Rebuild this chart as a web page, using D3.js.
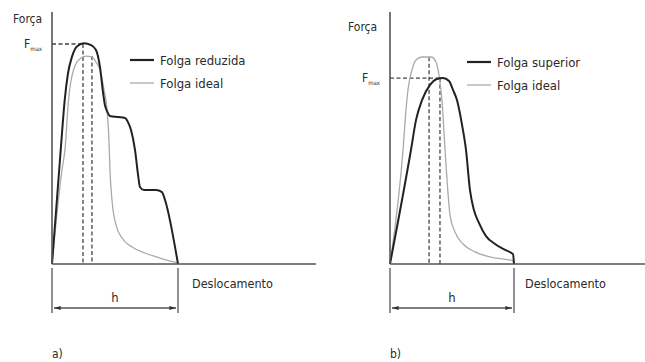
<!DOCTYPE html>
<html>
<head>
<meta charset="utf-8">
<script src="https://cdn.jsdelivr.net/npm/d3@7"></script>
<style>
  body { margin: 0; background: #fff; }
  svg text { font-family: "Liberation Sans Narrow", "DejaVu Sans Condensed", "Open Sans", sans-serif; fill: #2a2a2a; }
</style>
</head>
<body>
<svg id="chart" width="645" height="362"></svg>
<script>
// displacement in units where h = 10, force in units where Fmax (panel a) = 100
const reducedA = [[0,0],[0.6,45],[0.8,60],[1.0,74],[1.25,86],[1.6,94.5],[2.0,99],[2.54,100.3],[3.1,99.5],[3.49,97.3],[3.81,89.5],[4.05,78],[4.21,72],[4.37,69.5],[4.6,67.3],[5.24,66.8],[5.79,66.4],[6.03,64.5],[6.27,60.9],[6.59,51.8],[6.83,40.5],[6.98,35],[7.3,33.6],[8.25,33.6],[8.73,32.7],[8.97,29.1],[10,0]];
const idealA = [[0,0],[0.79,42.7],[1.03,52],[1.31,74.5],[1.75,89],[2.3,93.6],[2.7,94.5],[3.17,94.1],[3.49,91.8],[3.81,88.2],[4.13,79.1],[4.37,70],[4.52,56.4],[4.6,42.7],[4.76,29.1],[5.08,17.7],[5.56,11.8],[6.35,7.7],[7.38,5],[8.57,2.7],[10,0.5]];
const upperB = [[0,0],[1.69,51.8],[2.1,65.5],[2.58,74.5],[3.23,81.4],[3.79,84.1],[4.27,84.5],[4.76,83.2],[5.08,79.1],[5.4,74.5],[5.81,63.2],[6.13,51.8],[6.45,33.6],[6.77,24.5],[7.18,18.6],[7.74,12.7],[8.47,9.1],[9.27,6.4],[9.92,4.5],[10,0]];
const idealB = [[0,0],[1.05,51.8],[1.29,70],[1.45,79.1],[1.77,88.2],[2.1,92.7],[2.58,94.1],[3.31,94.1],[3.71,91.8],[3.95,85.9],[4.19,74.5],[4.44,51.8],[4.6,38.2],[4.84,22.3],[5.24,14.5],[5.89,9.1],[6.85,5.5],[8.06,3.2],[9.92,1.4],[10,0]];

// peak markers: [displacement, force]
const peaksA = [[2.46, 100], [3.17, 94.5]];
const peaksB = [[3.15, 94], [4.03, 84.5]];
const fmaxA = peaksA[0];
const fmaxB = peaksB[1];

const legendA = ["Folga reduzida", "Folga ideal"];
const legendB = ["Folga superior", "Folga ideal"];
const hSpan = [0, 10];

const svg = d3.select("#chart");

const y = d3.scaleLinear().domain([0, 100]).range([264, 44]);

function panel(opts) {
    const x = d3.scaleLinear().domain([0, 10]).range([opts.x0, opts.x0 + opts.w]);
    const g = svg.append("g");
    const line = d3.line()
        .x(d => x(d[0]))
        .y(d => y(d[1]))
        .curve(d3.curveMonotoneX);

    // dashed markers
    opts.peaks.forEach(p => {
        g.append("line")
            .attr("x1", x(p[0])).attr("x2", x(p[0]))
            .attr("y1", y(p[1])).attr("y2", y(0))
            .attr("stroke", "#444").attr("stroke-width", 1.3)
            .attr("stroke-dasharray", "4,2.5");
    });
    g.append("line")
        .attr("x1", x(0)).attr("x2", x(opts.fmax[0]))
        .attr("y1", y(opts.fmax[1])).attr("y2", y(opts.fmax[1]))
        .attr("stroke", "#444").attr("stroke-width", 1.3)
        .attr("stroke-dasharray", "4,2.5");

    g.append("path").datum(opts.ideal)
        .attr("d", line).attr("fill", "none")
        .attr("stroke", "#aaa").attr("stroke-width", 1.3);
    g.append("path").datum(opts.main)
        .attr("d", line).attr("fill", "none")
        .attr("stroke", "#222").attr("stroke-width", 2);

    // axes
    g.append("line")
        .attr("x1", x(0)).attr("x2", x(0))
        .attr("y1", y(0)).attr("y2", 12)
        .attr("stroke", "#555").attr("stroke-width", 1.6);
    g.append("line")
        .attr("x1", x(0)).attr("x2", opts.xEnd)
        .attr("y1", y(0)).attr("y2", y(0))
        .attr("stroke", "#555").attr("stroke-width", 1.6);

    g.append("text").attr("x", opts.forcaX).attr("y", opts.forcaY)
        .attr("font-size", 12).text("Força");
    const fm = g.append("text").attr("x", x(0) - 28).attr("y", y(opts.fmax[1]) + 4)
        .attr("font-size", 12);
    fm.append("tspan").text("F");
    fm.append("tspan").attr("font-size", 6).attr("dy", 3).text("max");

    g.append("text").attr("x", x(10) + opts.desOff).attr("y", 288)
        .attr("font-size", 12.5).text("Deslocamento");

    // h bracket
    [hSpan[0], hSpan[1]].forEach(v => {
        g.append("line")
            .attr("x1", x(v)).attr("x2", x(v))
            .attr("y1", 268).attr("y2", 313)
            .attr("stroke", "#555").attr("stroke-width", 1.3);
    });
    g.append("line")
        .attr("x1", x(hSpan[0]) + 2).attr("x2", x(hSpan[1]) - 2)
        .attr("y1", 308).attr("y2", 308)
        .attr("stroke", "#555").attr("stroke-width", 1.3)
        .attr("marker-start", "url(#arr)").attr("marker-end", "url(#arr)");
    g.append("text").attr("x", x(5)).attr("y", 302)
        .attr("text-anchor", "middle").attr("font-size", 13).text("h");

    // legend
    opts.legend.forEach((t, i) => {
        const ly = opts.legendY + i * 23;
        g.append("line")
            .attr("x1", opts.legendX).attr("x2", opts.legendX + 24)
            .attr("y1", ly).attr("y2", ly)
            .attr("stroke", i === 0 ? "#222" : "#aaa")
            .attr("stroke-width", i === 0 ? 2.2 : 1.3);
        g.append("text").attr("x", opts.legendX + 30).attr("y", ly + 4.5)
            .attr("font-size", 13).text(t);
    });

    g.append("text").attr("x", x(0)).attr("y", 358)
        .attr("font-size", 12).text(opts.tag);
}

svg.append("defs").append("marker")
    .attr("id", "arr").attr("viewBox", "0 0 10 6")
    .attr("refX", 10).attr("refY", 3)
    .attr("markerWidth", 8).attr("markerHeight", 4)
    .attr("markerUnits", "userSpaceOnUse")
    .attr("orient", "auto-start-reverse")
    .append("path").attr("d", "M0,0L10,3L0,6Z").attr("fill", "#333");

panel({x0: 52, w: 126, xEnd: 316, main: reducedA, ideal: idealA, peaks: peaksA, fmax: fmaxA,
    legend: legendA, legendX: 130, legendY: 60, forcaX: 13, forcaY: 23, tag: "a)", desOff: 14});
panel({x0: 390, w: 124, xEnd: 645, main: upperB, ideal: idealB, peaks: peaksB, fmax: fmaxB,
    legend: legendB, legendX: 467, legendY: 62, forcaX: 348, forcaY: 31, tag: "b)", desOff: 11});
</script>
</body>
</html>
